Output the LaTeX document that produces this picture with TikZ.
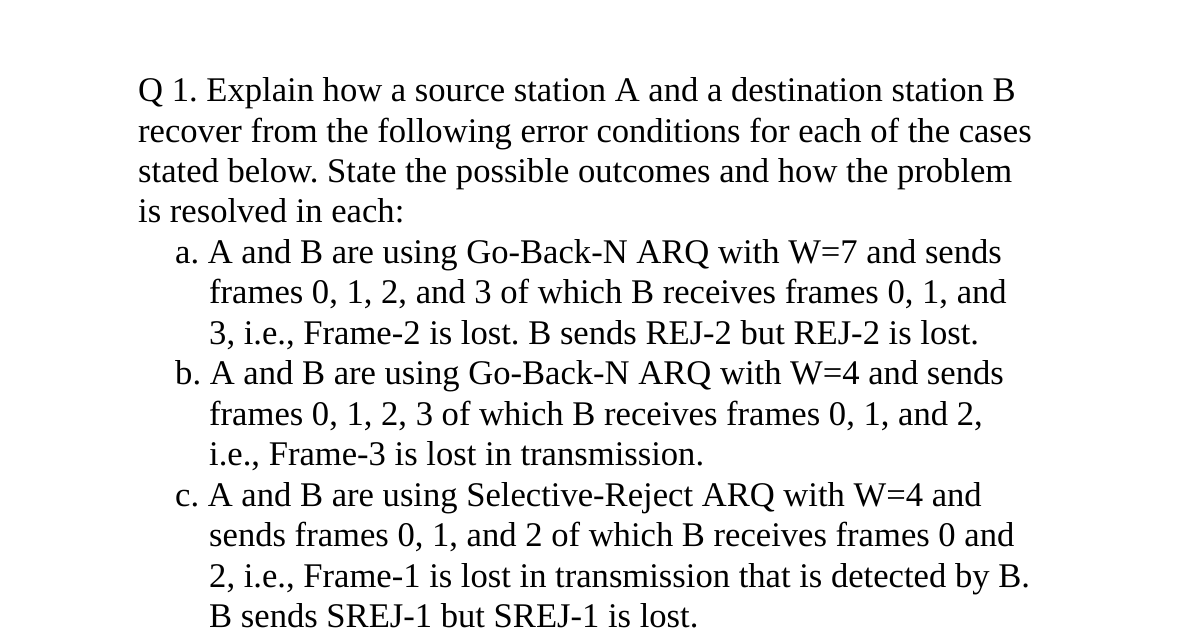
\documentclass[tikz,border=0pt]{standalone}
\usepackage{fontspec}
\setmainfont{Liberation Serif}
\frenchspacing
\begin{document}
\begin{tikzpicture}[x=1pt,y=-1pt,
  ln/.style={anchor=base west,inner sep=0pt,font=\fontsize{34.6}{40}\selectfont}]
\fill[white] (0,0) rectangle (1179,643);
\clip (0,0) rectangle (1179,643);
\node[ln] (l1) at (138,101) {Q 1. Explain how a source station A and a destination station B};
\node[ln] (l2) at (138,142) {recover from the following error conditions for each of the cases};
\node[ln] (l3) at (138,182) {stated below. State the possible outcomes and how the problem};
\node[ln] (l4) at (138,222) {is resolved in each:};
\node[ln] (a1) at (175,263) {a. A and B are using Go-Back-N ARQ with W=7 and sends};
\node[ln] (a2) at (209,303) {frames 0, 1, 2, and 3 of which B receives frames 0, 1, and};
\node[ln] (a3) at (209,344) {3, i.e., Frame-2 is lost. B sends REJ-2 but REJ-2 is lost.};
\node[ln] (b1) at (175,384) {b. A and B are using Go-Back-N ARQ with W=4 and sends};
\node[ln] (b2) at (209,425) {frames 0, 1, 2, 3 of which B receives frames 0, 1, and 2,};
\node[ln] (b3) at (209,465) {i.e., Frame-3 is lost in transmission.};
\node[ln] (c1) at (175,506) {c. A and B are using Selective-Reject ARQ with W=4 and};
\node[ln] (c2) at (209,546) {sends frames 0, 1, and 2 of which B receives frames 0 and};
\node[ln] (c3) at (209,587) {2, i.e., Frame-1 is lost in transmission that is detected by B.};
\node[ln] (c4) at (209,627) {B sends SREJ-1 but SREJ-1 is lost.};
\node[ln] (q2) at (138,668) {Q 2. Give an example of the problem when it is if};
\end{tikzpicture}
\end{document}
